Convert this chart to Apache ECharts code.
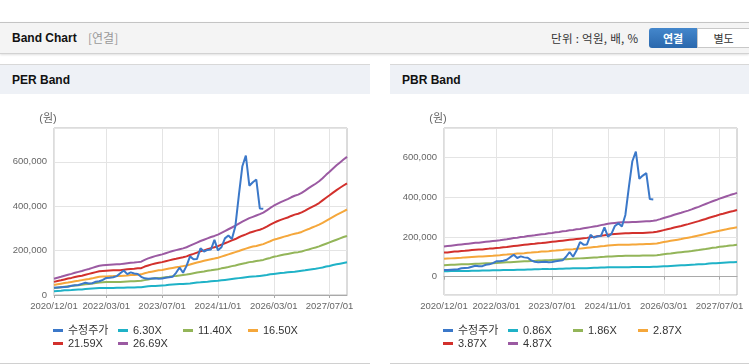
<!DOCTYPE html>
<html><head><meta charset="utf-8">
<script src="https://cdn.jsdelivr.net/npm/echarts@6/dist/echarts.min.js"></script>
<style>
html,body{margin:0;padding:0;background:#fff;width:749px;height:364px;overflow:hidden;font-family:"Liberation Sans","Noto Sans CJK KR",sans-serif;}
#bar{position:absolute;left:0;top:22px;width:749px;height:30px;background:#f4f4f4;border-top:1px solid #c4c4c4;border-bottom:1px solid #d2d2d2;box-shadow:0 1px 2px rgba(0,0,0,0.12);}
#bar .title{position:absolute;left:12px;top:8px;font-size:12px;font-weight:bold;color:#111;}
#bar .sub{position:absolute;left:88px;top:8px;font-size:12px;color:#999;font-family:"Noto Sans CJK KR",sans-serif;line-height:14px;}
#bar .unit{position:absolute;left:551px;top:8px;font-size:11.5px;color:#333;font-family:"Noto Sans CJK KR",sans-serif;line-height:14px;letter-spacing:0.3px;}
#btn1{position:absolute;left:649px;top:5px;width:48px;height:20px;background:linear-gradient(#4487cc,#2a68ad);color:#fff;font-weight:bold;font-size:11px;text-align:center;line-height:20px;border-radius:3px 0 0 3px;font-family:"Noto Sans CJK KR",sans-serif;}
#btn2{position:absolute;left:697px;top:5px;width:51px;height:18px;background:#fff;border:1px solid #c8c8c8;color:#333;font-size:11px;text-align:center;line-height:18px;font-family:"Noto Sans CJK KR",sans-serif;}
.panel{position:absolute;top:64px;height:298px;border-top:1px solid #d8d8d8;border-bottom:1px solid #d0d0d0;background:#fff;}
.panel .hd{height:29px;background:#eef1f6;font-size:12px;font-weight:bold;padding-left:12px;line-height:31px;color:#111;}
#p1{left:0;width:370px}
#p2{left:390px;width:359px}
#chart{position:absolute;left:0;top:0;width:749px;height:364px;}
</style></head>
<body>
<div id="bar"><span class="title">Band Chart</span><span class="sub">[연결]</span><span class="unit">단위 : 억원, 배, %</span><div id="btn1">연결</div><div id="btn2">별도</div></div>
<div class="panel" id="p1"><div class="hd">PER Band</div></div>
<div class="panel" id="p2"><div class="hd">PBR Band</div></div>
<div id="chart"></div>
<script>
const categories = ["2020/12/01",
"2021/01/01","2021/02/01","2021/03/01","2021/04/01","2021/05/01","2021/06/01","2021/07/01","2021/08/01","2021/09/01","2021/10/01","2021/11/01","2021/12/01",
"2022/01/01","2022/02/01","2022/03/01","2022/04/01","2022/05/01","2022/06/01","2022/07/01","2022/08/01","2022/09/01","2022/10/01","2022/11/01","2022/12/01",
"2023/01/01","2023/02/01","2023/03/01","2023/04/01","2023/05/01","2023/06/01","2023/07/01","2023/08/01","2023/09/01","2023/10/01","2023/11/01","2023/12/01",
"2024/01/01","2024/02/01","2024/03/01","2024/04/01","2024/05/01","2024/06/01","2024/07/01","2024/08/01","2024/09/01","2024/10/01","2024/11/01","2024/12/01",
"2025/01/01","2025/02/01","2025/03/01","2025/04/01","2025/05/01","2025/06/01","2025/07/01","2025/08/01","2025/09/01","2025/10/01","2025/11/01","2025/12/01",
"2026/01/01","2026/02/01","2026/03/01","2026/04/01","2026/05/01","2026/06/01","2026/07/01","2026/08/01","2026/09/01","2026/10/01","2026/11/01","2026/12/01",
"2027/01/01","2027/02/01","2027/03/01","2027/04/01","2027/05/01","2027/06/01","2027/07/01","2027/08/01","2027/09/01","2027/10/01","2027/11/01","2027/12/01"];
const tickLabels = ["2020/12/01","2022/03/01","2023/07/01","2024/11/01","2026/03/01","2027/07/01"];

const price = [33000,34000,35000,36000,37000,42000,44000,45000,50000,55000,52000,53000,60000,62000,68000,77000,78000,80000,85000,98000,110000,94000,102000,97000,95000,82000,75000,73000,74000,75000,73000,74000,78000,80000,82000,100000,124000,100000,131000,174000,161000,162000,210000,196000,203000,205000,248000,201000,215000,255000,268000,252000,310000,450000,580000,628000,492000,508000,520000,390000,388000];

const perNames = ["6.30X","11.40X","16.50X","21.59X","26.69X"];
const per630 = [17000,18000,19000,21000,21000,22000,24000,25000,25000,27000,28000,29000,30000,31000,32000,32000,32000,32000,33000,33000,33000,34000,34000,34000,35000,35000,37000,39000,40000,41000,42000,43000,44000,46000,47000,48000,49000,50000,51000,52000,54000,56000,57000,59000,60000,62000,63000,64000,66000,68000,70000,72000,74000,76000,78000,80000,82000,83000,84000,86000,88000,90000,93000,95000,97000,99000,100000,102000,104000,105000,107000,109000,111000,114000,116000,118000,121000,124000,128000,131000,135000,138000,141000,144000,147000];
const per1140 = [31000,33000,35000,37000,39000,41000,43000,44000,46000,48000,50000,52000,54000,56000,57000,58000,58000,59000,59000,59000,60000,61000,62000,62000,63000,64000,67000,70000,73000,75000,76000,78000,80000,82000,85000,86000,88000,90000,92000,95000,98000,101000,104000,106000,109000,111000,114000,116000,120000,123000,126000,130000,133000,137000,141000,144000,148000,150000,153000,155000,158000,163000,167000,172000,175000,179000,182000,185000,188000,191000,193000,196000,201000,205000,210000,214000,219000,225000,231000,237000,243000,249000,255000,261000,266000];
const per1650 = [45000,48000,51000,54000,56000,59000,62000,64000,67000,70000,72000,75000,79000,82000,83000,83000,84000,85000,85000,86000,87000,88000,90000,90000,91000,93000,98000,102000,105000,108000,111000,113000,116000,119000,122000,125000,127000,130000,133000,137000,142000,146000,150000,154000,158000,161000,164000,168000,173000,178000,183000,188000,193000,198000,204000,209000,214000,218000,221000,225000,229000,236000,242000,249000,253000,258000,263000,267000,272000,276000,279000,284000,291000,297000,304000,310000,317000,325000,334000,343000,352000,361000,369000,377000,385000];
const per2159 = [59000,63000,66000,70000,74000,77000,81000,84000,87000,91000,95000,99000,103000,107000,108000,109000,110000,111000,112000,112000,114000,116000,117000,118000,120000,121000,128000,133000,138000,142000,145000,148000,152000,156000,160000,163000,167000,170000,174000,180000,185000,191000,197000,201000,206000,211000,215000,220000,227000,233000,239000,246000,252000,260000,267000,273000,280000,285000,290000,294000,300000,308000,317000,325000,332000,338000,344000,349000,356000,362000,366000,372000,380000,389000,397000,405000,414000,426000,438000,449000,461000,472000,483000,493000,503000];
const per2669 = [73000,78000,82000,87000,91000,95000,100000,104000,108000,113000,117000,122000,127000,132000,134000,135000,136000,137000,138000,139000,141000,143000,145000,146000,148000,150000,158000,165000,170000,175000,179000,183000,188000,193000,198000,202000,206000,210000,215000,222000,229000,236000,243000,249000,255000,261000,266000,272000,280000,288000,296000,304000,312000,321000,330000,338000,346000,352000,358000,364000,371000,381000,392000,402000,410000,418000,425000,432000,440000,447000,452000,460000,470000,481000,491000,501000,512000,526000,541000,555000,570000,584000,597000,610000,622000];

const pbrNames = ["0.86X","1.86X","2.87X","3.87X","4.87X"];
const pbr086 = [27000,27000,28000,28000,28000,29000,29000,29000,30000,30000,30000,31000,31000,31000,32000,32000,32000,33000,33000,34000,34000,35000,35000,35000,36000,36000,37000,37000,38000,38000,38000,39000,39000,40000,40000,41000,41000,42000,42000,42000,43000,43000,44000,45000,45000,46000,46000,47000,47000,48000,48000,48000,48000,48000,49000,49000,49000,49000,49000,49000,50000,50000,51000,52000,53000,54000,55000,56000,57000,58000,59000,60000,61000,62000,63000,64000,66000,67000,68000,69000,70000,71000,72000,73000,74000];
const pbr186 = [58000,59000,60000,60000,61000,62000,63000,63000,64000,65000,65000,66000,67000,68000,68000,69000,70000,71000,72000,73000,74000,75000,76000,77000,78000,79000,79000,81000,81000,82000,83000,84000,85000,86000,87000,88000,89000,90000,91000,92000,93000,94000,95000,96000,97000,99000,100000,102000,102000,103000,104000,104000,105000,105000,105000,105000,105000,106000,106000,107000,107000,108000,110000,113000,115000,116000,119000,121000,123000,125000,127000,129000,132000,134000,137000,139000,142000,145000,147000,150000,152000,154000,157000,158000,161000];
const pbr287 = [90000,91000,92000,93000,94000,95000,97000,98000,99000,100000,101000,102000,103000,104000,105000,107000,108000,110000,111000,113000,114000,116000,117000,118000,120000,121000,123000,124000,126000,127000,128000,130000,131000,133000,134000,136000,137000,138000,140000,141000,143000,145000,147000,149000,150000,153000,154000,157000,158000,159000,160000,161000,161000,161000,162000,162000,163000,163000,164000,164000,166000,167000,170000,174000,177000,180000,183000,186000,189000,193000,196000,199000,203000,207000,211000,215000,219000,223000,227000,231000,235000,238000,242000,245000,248000];
const pbr387 = [121000,122000,124000,126000,127000,129000,130000,132000,134000,135000,136000,137000,139000,141000,142000,144000,145000,148000,149000,152000,154000,156000,158000,160000,162000,164000,165000,168000,169000,171000,173000,175000,177000,179000,181000,183000,185000,187000,189000,191000,193000,195000,198000,200000,203000,206000,208000,211000,213000,215000,216000,217000,218000,218000,219000,219000,219000,220000,221000,222000,223000,226000,230000,234000,238000,242000,247000,251000,255000,260000,264000,269000,274000,279000,285000,290000,296000,301000,306000,312000,316000,321000,326000,330000,335000];
const pbr487 = [152000,154000,156000,158000,160000,162000,164000,166000,168000,170000,171000,173000,175000,177000,179000,181000,183000,186000,188000,191000,194000,196000,199000,201000,204000,206000,208000,211000,213000,215000,218000,220000,223000,225000,228000,230000,233000,235000,238000,240000,243000,246000,249000,252000,255000,259000,262000,266000,268000,270000,272000,273000,274000,274000,275000,275000,276000,277000,278000,279000,281000,284000,289000,295000,300000,305000,311000,316000,321000,327000,332000,338000,345000,351000,358000,365000,372000,379000,385000,392000,398000,404000,410000,415000,421000];

const priceName = "수정주가";
const priceColor = "#3b78c9";
const bandColors = ["#1fb2c7","#93b559","#f5a73b","#d2302c","#9b5aa2"];
const FONT = '"Liberation Sans","Noto Sans CJK KR",sans-serif';

const chart = echarts.init(document.getElementById('chart'), null, {renderer:'canvas'});
const showTick = (idx, val) => tickLabels.indexOf(val) >= 0;

function xAxis(gi){
  return {type:'category', gridIndex:gi, data:categories, boundaryGap:false,
    axisLine:{lineStyle:{color:'#a9a9a9'}},
    axisTick:{show:true, interval:showTick, length:3, lineStyle:{color:'#a9a9a9'}},
    axisLabel:{interval:showTick, color:'#666', fontSize:9.5, margin:7, fontFamily:FONT},
    splitLine:{show:true, interval:showTick, lineStyle:{color:'#e4e4e4'}}};
}
function yAxis(gi, min, max){
  return {type:'value', gridIndex:gi, min:min, max:max, name:'(원)', nameLocation:'end', nameGap:4,
    nameTextStyle:{color:'#666', fontSize:11, padding:[0,12,0,0], fontFamily:FONT},
    axisLine:{show:false}, axisTick:{show:false},
    axisLabel:{color:'#666', fontSize:9.5, margin:7, fontFamily:FONT, showMinLabel: min===0, showMaxLabel:false},
    splitLine:{show:true, lineStyle:{color:'#e4e4e4'}}};
}
function seriesFor(gi, names, bands){
  const s = [];
  bands.forEach((d,k)=>{
    s.push({name:names[k], type:'line', xAxisIndex:gi, yAxisIndex:gi, data:d, symbol:'none', z:2,
      lineStyle:{width:2, color:bandColors[k]}, itemStyle:{color:bandColors[k]}});
  });
  s.push({name:priceName, type:'line', xAxisIndex:gi, yAxisIndex:gi, data:price, symbol:'none', z:3,
    lineStyle:{width:2, color:priceColor}, itemStyle:{color:priceColor}});
  return s;
}
function legend(left, names){
  return {left:left, top:324, padding:0, width:270, itemGap:0, itemWidth:10, itemHeight:3, icon:'rect',
    textStyle:{fontSize:11, color:'#333', width:50, lineHeight:13, fontFamily:FONT},
    data:[priceName].concat(names)};
}
const gridStyle = {show:true, borderColor:'#b8b8b8', borderWidth:1, backgroundColor:'transparent'};
chart.setOption({
  animation:false,
  grid:[Object.assign({left:54, top:128, width:293, height:167}, gridStyle),
        Object.assign({left:444, top:128, width:293, height:167}, gridStyle)],
  xAxis:[xAxis(0), xAxis(1)],
  yAxis:[yAxis(0, 0, 752000), yAxis(1, -92000, 747000)],
  legend:[legend(53, perNames), legend(443, pbrNames)],
  series: seriesFor(0, perNames, [per630, per1140, per1650, per2159, per2669])
    .concat(seriesFor(1, pbrNames, [pbr086, pbr186, pbr287, pbr387, pbr487]))
});
</script>
</body></html>
